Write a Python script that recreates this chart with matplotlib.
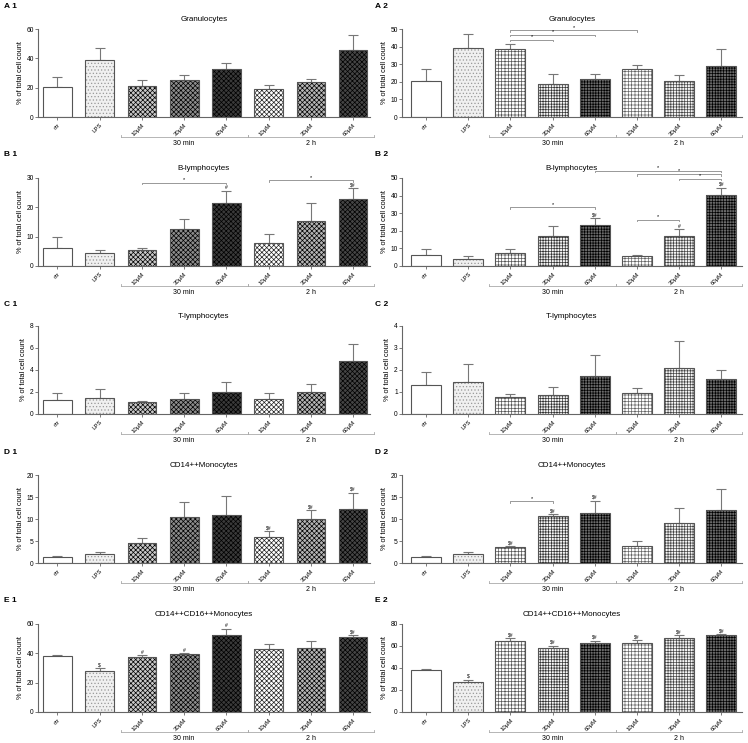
import matplotlib.pyplot as plt
import numpy as np

plt.rcParams['font.family'] = ['Liberation Sans', 'DejaVu Sans']
plt.rcParams['hatch.linewidth'] = 0.5

labels = ['ctr', 'LPS', '10µM', '30µM', '60µM', '10µM', '30µM', '60µM']
groups = ['30 min', '2 h']

# means and upper errors
a1_mean = [20.5, 39.0, 21.0, 25.3, 32.7, 18.8, 23.7, 46.0]
a1_err = [6.5, 8.0, 4.3, 3.1, 4.3, 2.7, 2.1, 10.0]
a2_mean = [20.7, 39.2, 38.6, 19.0, 21.6, 27.3, 20.7, 29.0]
a2_err = [6.3, 7.7, 2.9, 5.2, 2.9, 2.5, 3.2, 9.4]
b1_mean = [6.1, 4.3, 5.3, 12.6, 21.5, 7.7, 15.3, 22.8]
b1_err = [3.8, 1.1, 1.0, 3.4, 4.1, 3.3, 6.1, 3.8]
b2_mean = [6.0, 4.2, 7.5, 16.9, 23.1, 5.4, 17.3, 40.3]
b2_err = [3.8, 1.2, 2.3, 5.8, 4.2, 0.8, 3.5, 4.3]
c1_mean = [1.3, 1.47, 1.1, 1.4, 1.96, 1.35, 2.0, 4.85]
c1_err = [0.62, 0.83, 0.1, 0.52, 0.91, 0.53, 0.75, 1.55]
c2_mean = [1.3, 1.47, 0.78, 0.86, 1.72, 0.95, 2.1, 1.6]
c2_err = [0.62, 0.81, 0.12, 0.35, 0.98, 0.22, 1.2, 0.42]
d1_mean = [1.37, 1.98, 4.5, 10.5, 11.0, 5.9, 9.9, 12.3]
d1_err = [0.13, 0.42, 1.1, 3.4, 4.3, 1.3, 2.2, 3.7]
d2_mean = [1.37, 2.0, 3.7, 10.7, 11.3, 3.8, 9.1, 12.1]
d2_err = [0.13, 0.4, 0.2, 0.5, 2.9, 1.2, 3.5, 4.7]
e1_mean = [38.5, 27.8, 37.6, 39.5, 52.5, 43.2, 43.6, 51.2]
e1_err = [0.4, 2.0, 1.0, 0.5, 4.0, 3.4, 4.8, 1.4]
e2_mean = [38.5, 27.6, 64.5, 58.6, 63.0, 62.5, 67.0, 70.2]
e2_err = [0.4, 1.8, 2.5, 1.7, 2.0, 3.0, 3.0, 0.8]

# significance marks above bars
b1_marks = ['', '', '', '', '#', '', '', '$#']
b2_marks = ['', '', '', '', '$#', '', '#', '$#']
d1_marks = ['', '', '', '', '', '$#', '$#', '$#']
d2_marks = ['', '', '$#', '$#', '$#', '', '', '']
e1_marks = ['', '$', '#', '#', '#', '', '', '$#']
e2_marks = ['', '$', '$#', '$#', '$#', '$#', '$#', '$#']

# brackets: (from bar, to bar, height)
a2_brackets = [(2, 3, 44.0), (2, 4, 46.8), (2, 5, 49.4)]
b1_brackets = [(2, 4, 28.4), (5, 7, 29.3)]
b2_brackets = [(2, 4, 33.5), (5, 6, 26.3), (4, 7, 54.2), (5, 7, 52.3), (6, 7, 49.5)]
d2_brackets = [(2, 3, 14.0)]

left_fill = ['white', '#f0f0f0', '#c8c8c8', '#8c8c8c', '#3a3a3a', 'white', '#b4b4b4', '#454545']
left_hatch = [None, '.....', 'xxxxxxx', 'xxxxxxx', 'xxxxxxx', 'xxxxxxx', 'xxxxxxx', 'xxxxxxx']
left_hcol = ['#555555', '#999999', 'black', 'black', 'black', '#222222', 'black', 'black']
right_fill = ['white', '#f0f0f0', 'white', '#f4f4f4', '#6a6a6a', 'white', '#f4f4f4', '#6a6a6a']
right_hatch = [None, '.....', '+++++', '++++++', '++++++', '+++++', '++++++', '++++++']
right_hcol = ['#555555', '#999999', '#555555', '#333333', 'black', '#666666', '#444444', 'black']

W, H = 748, 743
fig = plt.figure(figsize=(W / 100, H / 100), dpi=100)
GRAY = '#666666'


def panel(col, baseline, tag, title, mean, err, ymax, step, marks=None, brackets=None):
    if col == 0:
        rect = [38 / W, 1 - baseline / H, 332 / W, 88 / H]
        fills, hatches, hcols = left_fill, left_hatch, left_hcol
        xl = (-0.46, 7.4)
        bw = 0.68
    else:
        rect = [402 / W, 1 - baseline / H, 340 / W, 88 / H]
        fills, hatches, hcols = right_fill, right_hatch, right_hcol
        xl = (-0.57, 7.49)
        bw = 0.71
    ax = fig.add_axes(rect)
    x = np.arange(len(mean))
    for i in x:
        ax.bar(i, mean[i], bw, color=fills[i], hatch=hatches[i], edgecolor=hcols[i],
               linewidth=0, zorder=2)
        ax.bar(i, mean[i], bw, fill=False, edgecolor='#555555', linewidth=0.8, zorder=3)
    ax.errorbar(x, mean, yerr=[np.zeros(len(err)), err], fmt='none', ecolor='#777777',
                elinewidth=0.8, capsize=3.5, capthick=0.8, zorder=1)
    ax.set_xlim(*xl)
    ax.set_ylim(0, ymax)
    ax.set_yticks(np.arange(0, ymax + step / 2, step))
    ax.set_xticks(x)
    ax.set_xticklabels(labels, rotation=45, ha='right', rotation_mode='anchor', fontsize=4.3)
    ax.tick_params(axis='y', labelsize=4.8, length=2, width=0.6, color=GRAY, pad=1)
    ax.tick_params(axis='x', length=2, width=0.6, color=GRAY, pad=2)
    for s in ['top', 'right']:
        ax.spines[s].set_visible(False)
    for s in ['left', 'bottom']:
        ax.spines[s].set_color(GRAY)
        ax.spines[s].set_linewidth(0.8)
    ax.set_ylabel('% of total cell count', fontsize=5.3, labelpad=2)
    ax.set_title(title, fontsize=5.8, pad=6)

    if marks:
        for i, m in enumerate(marks):
            if m:
                ax.annotate(m, (i, mean[i] + err[i]), xytext=(0, 0.5), textcoords='offset points',
                            ha='center', va='bottom', fontsize=3.6, parse_math=False)
    if brackets:
        d = ymax * 0.018
        for i, j, y in brackets:
            ax.plot([i, i, j, j], [y - d, y, y, y - d], color='#888888', lw=0.6, clip_on=False)
            ax.text((i + j) / 2, y + d * 0.3, '*', ha='center', va='bottom', fontsize=4)

    # time-group lines under the tick labels
    tr = ax.get_xaxis_transform()
    for (a, b), g in zip([(1.5, 4.5), (4.5, 7.5)], groups):
        ax.plot([a, b], [-0.225, -0.225], transform=tr, color='#aaaaaa', lw=0.6, clip_on=False)
        ax.plot([a, a], [-0.21, -0.225], transform=tr, color='#aaaaaa', lw=0.6, clip_on=False)
        ax.plot([b, b], [-0.21, -0.225], transform=tr, color='#aaaaaa', lw=0.6, clip_on=False)
        ax.text((a + b) / 2, -0.26, g, transform=tr, ha='center', va='top', fontsize=5)

    lx = 4 / W if col == 0 else 375 / W
    fig.text(lx, 1 - tag[1] / H, tag[0], fontsize=6, weight='bold', va='center')
    return ax


panel(0, 117, ('A 1', 6), 'Granulocytes', a1_mean, a1_err, 60, 20)
panel(1, 117, ('A 2', 6), 'Granulocytes', a2_mean, a2_err, 50, 10, brackets=a2_brackets)
panel(0, 266, ('B 1', 155), 'B-lymphocytes', b1_mean, b1_err, 30, 10, b1_marks, b1_brackets)
panel(1, 266, ('B 2', 155), 'B-lymphocytes', b2_mean, b2_err, 50, 10, b2_marks, b2_brackets)
panel(0, 414, ('C 1', 305), 'T-lymphocytes', c1_mean, c1_err, 8, 2)
panel(1, 414, ('C 2', 305), 'T-lymphocytes', c2_mean, c2_err, 4, 1)
panel(0, 563, ('D 1', 453), 'CD14++Monocytes', d1_mean, d1_err, 20, 5, d1_marks)
panel(1, 563, ('D 2', 453), 'CD14++Monocytes', d2_mean, d2_err, 20, 5, d2_marks, d2_brackets)
panel(0, 712, ('E 1', 601), 'CD14++CD16++Monocytes', e1_mean, e1_err, 60, 20, e1_marks)
panel(1, 712, ('E 2', 601), 'CD14++CD16++Monocytes', e2_mean, e2_err, 80, 20, e2_marks)

fig.savefig('out.png', dpi=100)
